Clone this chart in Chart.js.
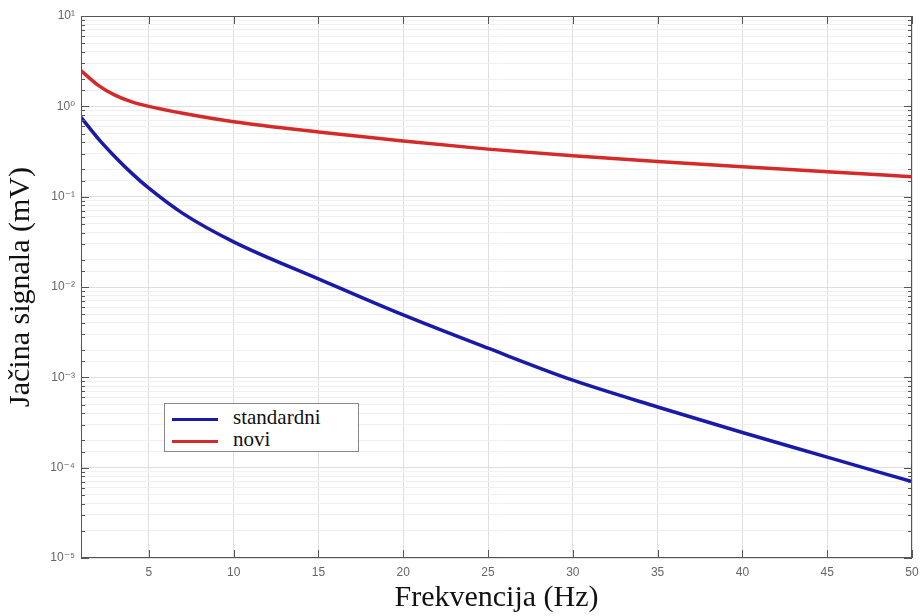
<!DOCTYPE html>
<html>
<head>
<meta charset="utf-8">
<script src="https://cdn.jsdelivr.net/npm/chart.js@4.4.0/dist/chart.umd.min.js"></script>
<style>
  html, body { margin: 0; padding: 0; background: #fff; }
  #wrap { position: relative; width: 920px; height: 616px; }
  #legend {
    position: absolute; left: 164px; top: 403px; width: 193px; height: 47px;
    border: 1px solid #888; background: #fff;
    font-family: "Liberation Serif", "Times New Roman", serif; font-size: 21px; color: #111;
  }
  .item { position: absolute; left: 7px; height: 22px; line-height: 22px; white-space: nowrap; }
  .item span.swatch { display: inline-block; width: 46px; height: 3px; vertical-align: middle; margin-right: 15px; }
</style>
</head>
<body>
<div id="wrap">
  <canvas id="chart" width="920" height="616"></canvas>
  <div id="legend"></div>
</div>
<script>
// frequency points (Hz)
const freq = [1, 2, 3, 4, 5, 7, 10, 15, 20, 25, 30, 35, 40, 45, 50];
// signal strength (mV)
const standardni = [0.755, 0.442, 0.277, 0.181, 0.124, 0.0653, 0.0316, 0.0123, 0.0049, 0.0021, 0.00093, 0.00047, 0.000245, 0.000131, 0.00007];
const novi = [2.48, 1.72, 1.33, 1.12, 1.0, 0.84, 0.676, 0.52, 0.413, 0.336, 0.284, 0.245, 0.214, 0.189, 0.166];
const seriesNames = ["standardni", "novi"];
const seriesColors = ["#1a1aa8", "#d42a2a"];
const xTicks = [5, 10, 15, 20, 25, 30, 35, 40, 45, 50];
const yMin = 1e-5, yMax = 10;

const sup = { "-": "\u207B", "0": "\u2070", "1": "\u00B9", "2": "\u00B2", "3": "\u00B3", "4": "\u2074", "5": "\u2075" };
const isDecade = v => Math.abs(Math.log10(v) - Math.round(Math.log10(v))) < 1e-6;
const decadeLabel = v => "10" + String(Math.round(Math.log10(v))).split("").map(c => sup[c]).join("");

const toPoints = ys => freq.map((f, i) => ({ x: f, y: ys[i] }));

// box + inward tick marks, matlab style
const boxTicks = {
  id: "boxTicks",
  afterDatasetsDraw(chart) {
    const { ctx, chartArea: a, scales: { x, y } } = chart;
    ctx.save();
    ctx.strokeStyle = "#555";
    ctx.lineWidth = 1;
    ctx.strokeRect(a.left + 0.5, a.top + 0.5, a.right - a.left - 1, a.bottom - a.top - 1);
    ctx.beginPath();
    y.ticks.forEach(t => {
      const py = Math.round(y.getPixelForValue(t.value)) + 0.5;
      const len = isDecade(t.value) ? 8 : 4;
      ctx.moveTo(a.left, py); ctx.lineTo(a.left + len, py);
      ctx.moveTo(a.right, py); ctx.lineTo(a.right - len, py);
    });
    x.ticks.forEach(t => {
      const px = Math.round(x.getPixelForValue(t.value)) + 0.5;
      ctx.moveTo(px, a.bottom); ctx.lineTo(px, a.bottom - 8);
      ctx.moveTo(px, a.top); ctx.lineTo(px, a.top + 8);
    });
    ctx.stroke();
    ctx.restore();
  }
};

const chart = new Chart(document.getElementById("chart"), {
  type: "line",
  data: {
    datasets: [
      { label: seriesNames[0], data: toPoints(standardni), borderColor: seriesColors[0] },
      { label: seriesNames[1], data: toPoints(novi), borderColor: seriesColors[1] }
    ]
  },
  options: {
    responsive: false,
    animation: false,
    layout: { padding: { top: 16, right: 0, bottom: 0, left: 0 } },
    elements: {
      point: { radius: 0 },
      line: { borderWidth: 3.5, cubicInterpolationMode: "monotone", fill: false }
    },
    plugins: { legend: { display: false }, tooltip: { enabled: false } },
    scales: {
      x: {
        type: "linear",
        min: 1,
        max: 50,
        afterBuildTicks: s => { s.ticks = xTicks.map(v => ({ value: v })); },
        afterFit: s => { s.height = 58; s.paddingRight = 8; s.paddingLeft = 0; },
        grid: { color: "#dedede", drawTicks: false },
        border: { display: false },
        ticks: { padding: 7, color: "#666", font: { family: "Liberation Sans", size: 12 }, maxRotation: 0 },
        title: {
          display: true, text: "Frekvencija (Hz)", color: "#111",
          font: { family: "Liberation Serif", size: 30 }, padding: { top: 0, bottom: 0 }
        }
      },
      y: {
        type: "logarithmic",
        min: yMin,
        max: yMax,
        afterFit: s => { s.width = 81; },
        grid: {
          drawTicks: false,
          color: c => (c.tick && isDecade(c.tick.value)) ? "#dedede" : "#f0f0f0"
        },
        border: { display: false },
        ticks: {
          autoSkip: false,
          padding: 6,
          color: "#666",
          font: { family: "Liberation Sans, DejaVu Sans", size: 12 },
          callback: v => isDecade(v) ? decadeLabel(v) : ""
        },
        title: {
          display: true, text: "Jačina signala (mV)", color: "#111",
          font: { family: "Liberation Serif", size: 30 }, padding: { top: 3, bottom: 0 }
        }
      }
    }
  },
  plugins: [boxTicks]
});

// legend box drawn from the datasets
const legendEl = document.getElementById("legend");
chart.data.datasets.forEach((ds, i) => {
  const row = document.createElement("div");
  row.className = "item";
  row.style.top = (2 + i * 22) + "px";
  row.innerHTML = '<span class="swatch" style="background:' + ds.borderColor + '"></span>' + ds.label;
  legendEl.appendChild(row);
});
</script>
</body>
</html>
